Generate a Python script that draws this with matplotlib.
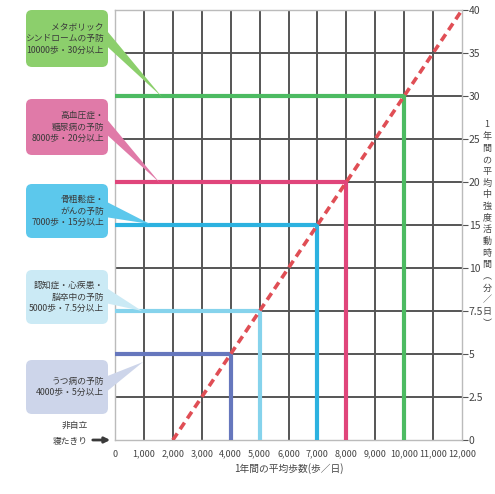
import numpy as np
import matplotlib
matplotlib.use("Agg")
import matplotlib.pyplot as plt
from matplotlib.patches import FancyBboxPatch, Polygon

plt.rcParams['font.family'] = ['Noto Sans CJK JP', 'DejaVu Sans']

# steps per day vs. moderate activity minutes
steps = [10000, 8000, 7000, 5000, 4000]
minutes = [30, 20, 15, 7.5, 5]
labels = ["メタボリック\nシンドロームの予防\n10000歩・30分以上",
          "高血圧症・\n糖尿病の予防\n8000歩・20分以上",
          "骨粗鬆症・\nがんの予防\n7000歩・15分以上",
          "認知症・心疾患・\n脳卒中の予防\n5000歩・7.5分以上",
          "うつ病の予防\n4000歩・5分以上"]
line_colors = ["#4dbb62", "#e0457b", "#2cb2e0", "#86d3ec", "#6677bd"]
box_colors = ["#8ccf6c", "#e07aa8", "#5cc8ec", "#cbeaf5", "#cdd5ea"]

x_ticks = list(range(0, 12001, 1000))
y_ticks = [0, 2.5, 5, 7.5, 10, 15, 20, 25, 30, 35, 40]
diag_steps = [2000, 12000]
diag_minutes = [0, 40]
y_title = "1年間の平均中強度活動時間︵分／日︶"


# y axis: 2.5 min per division up to 10, then 5 min per division
def fwd(v):
    v = np.asarray(v, dtype=float)
    return np.where(v <= 10, v / 2.5, 4 + (v - 10) / 5)


def inv(p):
    p = np.asarray(p, dtype=float)
    return np.where(p <= 4, p * 2.5, 10 + (p - 4) * 5)


W, H = 495, 494
fig = plt.figure(figsize=(W / 100, H / 100), dpi=100)
ax = fig.add_axes([115 / W, 1 - 440 / H, (462 - 115) / W, (440 - 10) / H])
ax.set_yscale('function', functions=(fwd, inv))
ax.set_xlim(0, 12000)
ax.set_ylim(0, 40)

for x in x_ticks[1:-1]:
    ax.axvline(x, color="#555555", lw=1.4, zorder=1)
for y in y_ticks[1:-1]:
    ax.axhline(y, color="#555555", lw=1.4, zorder=1)

for s, m, c in zip(steps, minutes, line_colors):
    ax.plot([0, s, s], [m, m, 0], color=c, lw=3, solid_joinstyle='miter', zorder=3)

ax.plot(diag_steps, diag_minutes, color="#e04e55", lw=2.6, ls=(0, (2.2, 1.4)), zorder=4)

for sp in ax.spines.values():
    sp.set_color("#bbbbbb")
    sp.set_linestyle((0, (2, 1)))
    sp.set_linewidth(1)

ax.set_xticks(x_ticks)
ax.set_xticklabels([f"{x:,}" for x in x_ticks], fontsize=6.5, color="#444444")
ax.yaxis.tick_right()
ax.set_yticks(y_ticks)
ax.set_yticklabels([f"{y:g}" for y in y_ticks], fontsize=7.5, color="#444444")
ax.tick_params(axis='x', length=0, pad=7)
ax.tick_params(axis='y', length=4, color="#555555", pad=1)
ax.set_xlabel("1年間の平均歩数(歩／日)", fontsize=7, color="#444444", labelpad=3)

fig.text(487 / W, 1 - 224 / H, "\n".join(y_title),
         fontsize=6.5, color="#444444", ha='center', va='center', linespacing=1.38)

# callout boxes drawn in figure pixel coordinates
ov = fig.add_axes([0, 0, 1, 1], zorder=5)
ov.set_xlim(0, W)
ov.set_ylim(H, 0)
ov.axis('off')
ov.patch.set_alpha(0)

boxes = [(10, 67), (99, 155), (184, 238), (270, 324), (360, 414)]
tips = [(162, 97), (160, 183), (150, 224), (142, 311), (143, 362)]
for (top, bot), tip, bc, txt in zip(boxes, tips, box_colors, labels):
    ov.add_patch(FancyBboxPatch((26, top), 82, bot - top,
                                boxstyle="round,pad=0,rounding_size=6",
                                fc=bc, ec='none'))
    mid = (top + bot) / 2
    ov.add_patch(Polygon([(105, mid - 10), (105, mid + 6), tip],
                         closed=True, fc=bc, ec='none'))
    ov.text(104, mid, txt, ha='right', va='center', fontsize=6.3,
            color="#3a3a3a", linespacing=1.35)

ov.text(88, 425, "非自立", ha='right', va='center', fontsize=6.3, color="#3a3a3a")
ov.text(88, 441, "寝たきり", ha='right', va='center', fontsize=6.3, color="#3a3a3a")
ov.annotate("", xy=(113, 440), xytext=(90, 440),
            arrowprops=dict(arrowstyle='-|>', color="#3a3a3a", lw=2, mutation_scale=8))

fig.savefig("out.png", dpi=100, facecolor="white")
